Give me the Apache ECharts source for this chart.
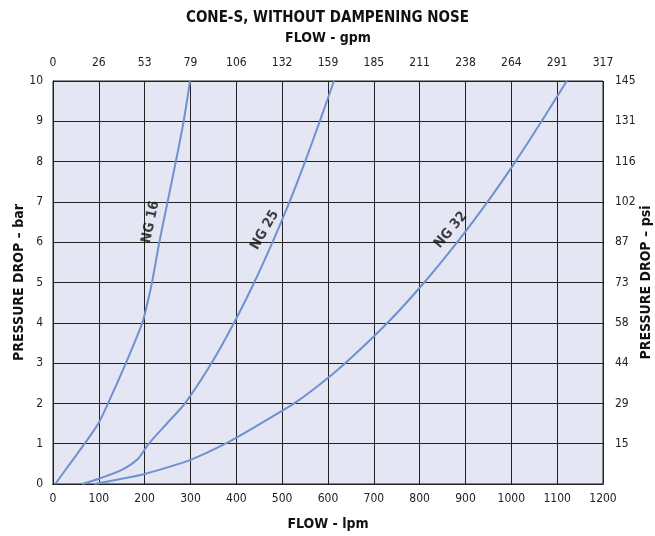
<!DOCTYPE html>
<html>
<head>
<meta charset="utf-8">
<script src="https://cdn.jsdelivr.net/npm/echarts@6/dist/echarts.min.js"></script>
<style>
html,body{margin:0;padding:0;background:#fff;}
#chart{width:655px;height:536px;}
</style>
</head>
<body>
<div id="chart"></div>
<script>
// Flow (lpm) ticks and secondary labels
var gpmLabels = ['0','26','53','79','106','132','159','185','211','238','264','291','317'];
var psiLabels = ['','15','29','44','58','73','87','102','116','131','145'];

// NG 16 curve
var ng16Flow = [5, 40, 69, 100, 120, 159, 195, 201, 216, 232, 250, 268, 285, 299];
var ng16Bar  = [0, 0.55, 1, 1.52, 2, 3, 4, 4.25, 5, 6, 7, 8, 9, 10];
// NG 25 curve
var ng25Flow = [64, 100, 150, 185, 209, 250, 288, 346, 395, 439, 479, 516, 550, 582, 613];
var ng25Bar  = [0, 0.13, 0.35, 0.62, 1, 1.52, 2, 3, 4, 5, 6, 7, 8, 9, 10];
// NG 32 curve
var ng32Flow = [90, 150, 200, 300, 376, 450, 526, 580, 638, 730, 810, 882, 948, 1009, 1066, 1121];
var ng32Bar  = [0, 0.13, 0.25, 0.6, 1, 1.48, 2, 2.45, 3, 4, 5, 6, 7, 8, 9, 10];

// curve labels
var labelNames = ['NG 16', 'NG 25', 'NG 32'];
var labelFlow  = [213, 462, 868];
var labelBar   = [6.5, 6.3, 6.3];
var labelAngle = [78, 60, 50];

function pairs(xs, ys){ return xs.map(function(x,i){ return [x, ys[i]]; }); }

var FONT = '"DejaVu Sans Condensed","Liberation Sans Narrow",sans-serif';
var lineColor = '#7190cf';

var chart = echarts.init(document.getElementById('chart'), null, {renderer:'canvas'});
var option = {
  animation: false,
  backgroundColor: '#ffffff',
  textStyle: { fontFamily: FONT, color: '#111' },
  title: {
    text: 'CONE-S, WITHOUT DAMPENING NOSE',
    left: 'center', top: 6,
    textStyle: { fontFamily: FONT, fontWeight: 'bold', fontSize: 15, color: '#111' }
  },
  grid: { left: 53, right: 52, top: 81, bottom: 52, containLabel: false, outerBoundsMode: 'none',
    show: true, backgroundColor: '#e4e7f3', borderColor: '#222', borderWidth: 1 },
  xAxis: [
    {
      type: 'value', position: 'bottom', min: 0, max: 1200, interval: 100,
      name: 'FLOW - lpm', nameLocation: 'middle', nameGap: 33,
      nameTextStyle: { fontFamily: FONT, fontWeight: 'bold', fontSize: 14, color: '#111' },
      axisLine: { show: true, lineStyle: { color: '#222', width: 1 } },
      axisTick: { show: false },
      axisLabel: { margin: 9, fontSize: 12, color: '#222', fontFamily: FONT,
        formatter: function(v){ return String(v); } },
      splitLine: { show: true, lineStyle: { color: '#222', width: 1 } }
    },
    {
      type: 'value', position: 'top', min: 0, max: 1200, interval: 100,
      name: 'FLOW - gpm', nameLocation: 'middle', nameGap: 36,
      nameTextStyle: { fontFamily: FONT, fontWeight: 'bold', fontSize: 14, color: '#111' },
      axisLine: { show: true, lineStyle: { color: '#222', width: 1 } },
      axisTick: { show: false },
      axisLabel: { margin: 12, fontSize: 12, color: '#222', fontFamily: FONT,
        formatter: function(v){ return gpmLabels[Math.round(v/100)]; } },
      splitLine: { show: false }
    }
  ],
  yAxis: [
    {
      type: 'value', position: 'left', min: 0, max: 10, interval: 1,
      name: 'PRESSURE DROP – bar', nameLocation: 'middle', nameGap: 27, nameMoveOverlap: false,
      nameTextStyle: { fontFamily: FONT, fontWeight: 'bold', fontSize: 14, color: '#111' },
      axisLine: { show: true, lineStyle: { color: '#222', width: 1 } },
      axisTick: { show: false },
      axisLabel: { margin: 10, fontSize: 12, color: '#222', fontFamily: FONT },
      splitLine: { show: true, lineStyle: { color: '#222', width: 1 } }
    },
    {
      type: 'value', position: 'right', min: 0, max: 10, interval: 1,
      name: 'PRESSURE DROP – psi', nameLocation: 'middle', nameGap: 36, nameMoveOverlap: false,
      nameTextStyle: { fontFamily: FONT, fontWeight: 'bold', fontSize: 14, color: '#111' },
      axisLine: { show: true, lineStyle: { color: '#222', width: 1 } },
      axisTick: { show: false },
      axisLabel: { margin: 12, fontSize: 12, color: '#222', fontFamily: FONT,
        formatter: function(v){ return psiLabels[Math.round(v)]; } },
      splitLine: { show: false }
    }
  ],
  series: [
    { name: 'NG 16', type: 'line', data: pairs(ng16Flow, ng16Bar), smooth: 0.25, showSymbol: false,
      lineStyle: { color: lineColor, width: 2 } },
    { name: 'NG 25', type: 'line', data: pairs(ng25Flow, ng25Bar), smooth: 0.25, showSymbol: false,
      lineStyle: { color: lineColor, width: 2 } },
    { name: 'NG 32', type: 'line', data: pairs(ng32Flow, ng32Bar), smooth: 0.25, showSymbol: false,
      lineStyle: { color: lineColor, width: 2 } },
    { type: 'scatter', symbolSize: 0, silent: true,
      data: labelNames.map(function(n,i){
        return { value: [labelFlow[i], labelBar[i]],
          label: { show: true, position: 'inside', formatter: n, rotate: labelAngle[i],
            fontFamily: FONT, fontWeight: 'bold', fontSize: 14, color: '#111' } };
      }) }
  ]
};
chart.setOption(option);
</script>
</body>
</html>
